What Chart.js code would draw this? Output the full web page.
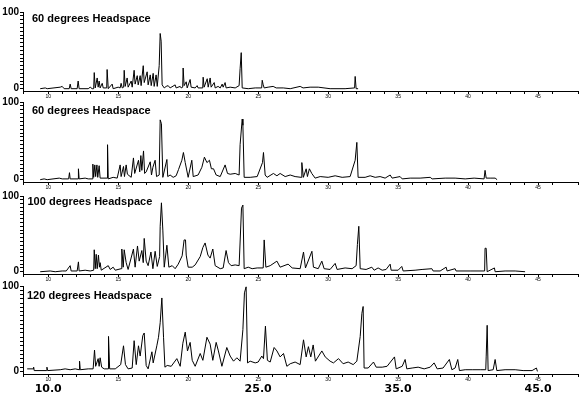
<!DOCTYPE html>
<html>
<head>
<meta charset="utf-8">
<script src="https://cdn.jsdelivr.net/npm/chart.js@4.4.1/dist/chart.umd.min.js"></script>
<style>
  body { margin: 0; background: #fff; }
  #wrap { position: relative; width: 581px; height: 398px; }
  #wrap canvas { position: absolute; left: 0; }
</style>
</head>
<body>
<div id="wrap">
  <canvas id="p1" width="581" height="96" style="top:4px"></canvas>
  <canvas id="p2" width="581" height="97" style="top:94px"></canvas>
  <canvas id="p3" width="581" height="95" style="top:188px"></canvas>
  <canvas id="p4" width="581" height="118" style="top:278px"></canvas>
</div>
<script>
// retention time (min) / relative abundance (%)
const trace60a = [[9.43,0],[9.79,1],[9.93,0],[10.86,2],[11.0,3],[11.14,0],[11.5,0],[11.57,6],[11.64,0],[12.07,0],[12.14,10],[12.21,0],[12.86,0],[13.0,2],[13.14,0],[13.25,0],[13.29,21],[13.36,1],[13.5,14],[13.57,2],[13.64,10],[13.71,1],[13.86,7],[13.93,1],[14.18,1],[14.21,25],[14.29,0],[14.57,6],[14.64,0],[15.0,2],[15.14,1],[15.21,7],[15.29,1],[15.39,2],[15.43,24],[15.5,3],[15.64,14],[15.71,2],[15.93,10],[16.0,2],[16.14,24],[16.21,6],[16.36,17],[16.43,5],[16.57,17],[16.64,4],[16.79,30],[16.86,8],[17.07,22],[17.14,5],[17.29,18],[17.36,4],[17.5,20],[17.57,3],[17.71,18],[17.79,3],[17.93,30],[18.0,72],[18.07,62],[18.14,5],[18.29,1],[18.43,3],[18.57,4],[18.71,1],[19.07,5],[19.14,1],[19.43,3],[19.5,1],[19.61,2],[19.64,27],[19.71,4],[19.86,9],[19.93,1],[20.14,12],[20.21,2],[20.5,1],[20.64,4],[20.71,1],[21.04,1],[21.07,15],[21.14,2],[21.36,13],[21.43,2],[21.57,14],[21.64,2],[21.86,8],[21.93,1],[22.14,3],[22.29,1],[22.43,6],[22.5,2],[22.64,8],[22.71,1],[23.0,2],[23.36,1],[23.64,4],[23.71,26],[23.79,47],[23.86,1],[24.29,0],[24.79,1],[25.25,1],[25.29,11],[25.36,5],[25.43,1],[25.71,2],[26.07,3],[26.29,1],[26.79,1],[27.29,0],[28.0,3],[28.21,1],[28.71,2],[29.29,2],[30.14,0],[31.21,0],[31.89,1],[31.93,16],[32.0,0],[32.14,0]];

const trace60b = [[9.43,0],[9.71,1],[9.93,0],[10.79,2],[11.0,1],[11.46,1],[11.52,9],[11.57,1],[12.14,1],[12.16,14],[12.21,1],[12.64,2],[12.86,1],[13.14,1],[13.19,20],[13.25,3],[13.33,19],[13.39,4],[13.48,19],[13.54,3],[13.64,18],[13.71,2],[14.21,2],[14.24,45],[14.29,1],[14.64,3],[14.93,2],[15.14,19],[15.21,4],[15.38,17],[15.45,4],[15.57,19],[15.66,7],[15.93,3],[16.09,28],[16.18,8],[16.45,25],[16.54,10],[16.62,31],[16.69,12],[16.81,37],[16.89,8],[17.0,10],[17.29,23],[17.38,6],[17.48,16],[17.64,25],[17.74,4],[17.93,6],[18.0,77],[18.09,72],[18.19,3],[18.48,26],[18.54,4],[18.71,6],[18.93,3],[19.14,5],[19.31,13],[19.55,25],[19.66,35],[19.79,22],[20.0,3],[20.26,25],[20.36,4],[20.71,6],[20.98,16],[21.16,29],[21.34,22],[21.52,25],[21.66,14],[21.81,14],[22.0,6],[22.29,4],[22.64,19],[22.81,8],[23.0,7],[23.36,8],[23.64,6],[23.71,45],[23.86,78],[23.91,70],[24.0,3],[24.43,3],[24.93,4],[25.31,22],[25.38,35],[25.5,6],[25.64,3],[26.09,8],[26.34,5],[26.57,8],[26.93,4],[27.29,6],[27.64,4],[28.07,3],[28.12,22],[28.23,3],[28.43,14],[28.52,4],[28.66,14],[28.83,8],[29.07,2],[29.43,4],[30.0,3],[30.5,5],[31.0,3],[31.57,4],[31.93,25],[32.05,48],[32.14,3],[32.64,3],[33.0,5],[33.36,3],[33.71,4],[34.07,2],[34.43,6],[34.57,2],[35.14,4],[35.29,1],[35.86,2],[36.57,2],[37.29,3],[37.43,1],[38.36,2],[39.07,2],[39.79,1],[40.43,2],[41.14,1],[41.21,12],[41.29,2],[41.57,2],[41.93,2],[42.07,0]];

const trace100 = [[9.43,0],[10.14,1],[10.5,0],[11.0,1],[11.29,1],[11.57,8],[11.64,1],[12.07,1],[12.16,13],[12.21,1],[12.64,2],[13.0,1],[13.25,2],[13.29,29],[13.36,4],[13.43,23],[13.5,4],[13.59,22],[13.66,6],[13.71,12],[13.79,2],[14.29,8],[14.43,3],[14.64,6],[14.79,2],[15.21,4],[15.26,30],[15.36,6],[15.43,29],[15.57,12],[15.71,3],[16.09,30],[16.21,6],[16.38,34],[16.5,14],[16.69,28],[16.79,12],[16.86,44],[17.0,14],[17.14,8],[17.34,26],[17.48,4],[17.64,27],[17.79,7],[17.96,20],[18.0,60],[18.09,91],[18.19,55],[18.29,6],[18.48,35],[18.62,6],[18.86,8],[19.07,4],[19.29,10],[19.57,21],[19.71,42],[19.81,42],[19.86,22],[20.0,6],[20.29,6],[20.5,9],[20.86,20],[21.05,32],[21.21,38],[21.41,22],[21.57,18],[21.76,30],[21.93,8],[22.29,4],[22.5,5],[22.71,28],[22.88,12],[23.07,8],[23.36,9],[23.64,8],[23.81,84],[23.91,88],[24.0,4],[24.29,6],[24.57,4],[24.93,5],[25.36,5],[25.43,42],[25.55,6],[25.86,8],[26.34,14],[26.57,6],[27.14,10],[27.43,5],[28.0,4],[28.24,26],[28.38,5],[28.84,27],[28.95,6],[29.29,4],[29.55,14],[29.71,4],[30.14,3],[30.5,11],[30.64,3],[31.21,5],[31.71,4],[32.0,8],[32.09,36],[32.19,60],[32.29,4],[32.71,3],[33.12,6],[33.29,2],[33.57,5],[33.86,2],[34.14,3],[34.43,10],[34.5,2],[35.0,2],[35.26,7],[35.36,1],[36.21,2],[36.71,3],[37.41,4],[37.5,1],[38.0,1],[38.43,6],[38.5,1],[39.07,4],[39.14,1],[40.14,1],[41.18,1],[41.21,31],[41.29,31],[41.36,0],[41.88,5],[41.93,0],[42.64,1],[43.36,1],[44.07,0]];

const trace120 = [[8.5,3],[8.93,3],[8.96,5],[9.0,1],[9.86,1],[9.91,5],[9.96,1],[10.86,2],[11.21,3],[11.57,2],[11.93,3],[12.21,2],[12.24,12],[12.29,2],[12.86,3],[13.21,3],[13.31,25],[13.39,6],[13.57,15],[13.64,6],[13.71,16],[13.82,5],[14.0,3],[14.29,3],[14.31,41],[14.39,3],[14.79,3],[15.18,8],[15.38,30],[15.52,8],[15.71,3],[16.0,4],[16.14,36],[16.29,8],[16.45,30],[16.57,18],[16.76,42],[16.86,45],[17.0,7],[17.14,3],[17.41,23],[17.5,10],[17.76,30],[17.88,40],[18.0,57],[18.12,86],[18.24,40],[18.34,5],[18.5,7],[18.79,6],[19.19,15],[19.43,6],[19.62,33],[19.79,46],[19.95,24],[20.14,34],[20.29,13],[20.5,6],[20.86,21],[21.05,13],[21.34,40],[21.57,32],[21.76,13],[22.0,34],[22.16,24],[22.41,6],[22.76,28],[23.0,18],[23.24,12],[23.48,16],[23.71,12],[23.91,49],[24.02,92],[24.14,99],[24.24,10],[24.43,12],[24.79,10],[25.0,11],[25.26,18],[25.38,15],[25.52,53],[25.66,13],[25.86,11],[26.14,28],[26.34,24],[26.57,17],[26.81,21],[27.05,6],[27.29,9],[27.64,11],[28.0,8],[28.24,37],[28.43,17],[28.59,29],[28.76,17],[28.93,31],[29.09,12],[29.55,24],[29.79,17],[30.14,12],[30.38,10],[30.74,15],[31.07,9],[31.43,11],[31.79,8],[32.05,12],[32.29,41],[32.41,68],[32.5,76],[32.57,4],[32.86,4],[33.24,11],[33.43,5],[33.86,5],[34.21,6],[34.74,17],[34.86,3],[35.29,6],[35.5,14],[35.62,3],[36.0,4],[36.43,5],[36.86,3],[37.29,5],[37.57,10],[37.79,3],[38.21,4],[38.66,14],[38.84,2],[39.07,4],[39.26,14],[39.38,1],[39.79,2],[40.29,2],[40.86,2],[41.26,2],[41.29,17],[41.36,54],[41.43,1],[41.79,2],[41.93,14],[42.05,1],[42.64,2],[43.36,2],[43.93,1],[44.57,1],[44.88,4],[44.95,0]];

const panelTitles = ['60 degrees Headspace', '60 degrees Headspace', '100 degrees Headspace', '120 degrees Headspace'];
const yTicks = [0, 5, 10, 15, 20, 25, 30, 35, 40, 45, 50, 55, 60, 65, 70, 75, 80, 85, 90, 95, 100];
const yLabels = [0, 100];
const bottomLabels = [10, 25, 35, 45];
const rtMin = 8.2, rtMax = 47.85;

// title written inside the plot area, top left
const panelTitle = {
  id: 'panelTitle',
  afterDraw(chart, args, opts) {
    const { ctx, chartArea } = chart;
    ctx.save();
    ctx.font = 'bold 11px "Liberation Sans", Arial, sans-serif';
    ctx.fillStyle = '#000';
    ctx.textBaseline = 'alphabetic';
    ctx.fillText(opts.text, chartArea.left + opts.dx, chartArea.top + opts.dy);
    ctx.restore();
  }
};

function makePanel(id, title, trace, dx, dy, isBottom) {
  const scales = {
    x: {
      type: 'linear', min: rtMin, max: rtMax, weight: 0,
      afterFit: s => { s.height = 9; },
      grid: { drawOnChartArea: false, drawTicks: true, tickLength: 3, color: '#000' },
      border: { color: '#000', width: 1 },
      ticks: {
        stepSize: 1, autoSkip: false, maxRotation: 0, padding: 0, color: '#000',
        font: { family: '"Liberation Sans", Arial', size: 5 },
        callback: v => (Number.isInteger(v) && v % 5 === 0) ? v : ''
      }
    },
    y: {
      min: -3, max: 100,
      afterFit: s => { s.width = 23; },
      afterBuildTicks: s => { s.ticks = yTicks.map(v => ({ value: v })); },
      grid: { drawOnChartArea: false, drawTicks: true, tickLength: 3, color: '#000' },
      border: { color: '#000', width: 1 },
      ticks: {
        autoSkip: false, padding: 1, color: '#000',
        font: { family: '"Liberation Sans", Arial', size: 10, weight: 'bold' },
        callback: v => yLabels.includes(v) ? v : ''
      }
    }
  };
  if (isBottom) {
    scales.xb = {
      type: 'linear', position: 'bottom', min: rtMin, max: rtMax, weight: 1,
      afterFit: s => { s.height = 13; },
      afterBuildTicks: s => { s.ticks = bottomLabels.map(v => ({ value: v })); },
      grid: { display: false, drawTicks: false },
      border: { display: false },
      ticks: {
        padding: 0, color: '#000', maxRotation: 0, autoSkip: false,
        font: { family: '"DejaVu Sans", sans-serif', size: 11, weight: 'bold' },
        callback: v => v.toFixed(1)
      }
    };
  }
  return new Chart(document.getElementById(id), {
    type: 'line',
    data: {
      datasets: [{
        data: trace.map(([x, y]) => ({ x, y })),
        borderColor: '#000',
        borderWidth: 1,
        pointRadius: 0,
        tension: 0,
        fill: false
      }]
    },
    options: {
      responsive: false,
      animation: false,
      devicePixelRatio: 1,
      layout: { padding: { top: 8, left: 0, right: 3, bottom: 0 } },
      plugins: {
        legend: { display: false },
        tooltip: { enabled: false },
        panelTitle: { text: title, dx: dx, dy: dy }
      },
      scales: scales
    },
    plugins: [panelTitle]
  });
}

makePanel('p1', panelTitles[0], trace60a, 9, 10, false);
makePanel('p2', panelTitles[1], trace60b, 9, 11.5, false);
makePanel('p3', panelTitles[2], trace100, 4.5, 9, false);
makePanel('p4', panelTitles[3], trace120, 4, 12.5, true);
</script>
</body>
</html>
